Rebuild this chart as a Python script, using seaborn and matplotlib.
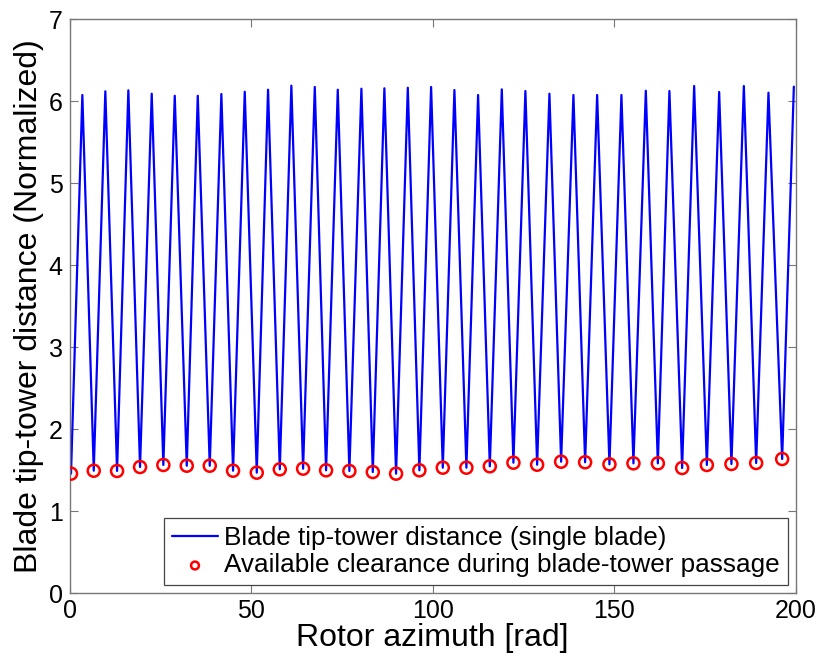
import matplotlib
matplotlib.use("Agg")
import matplotlib.pyplot as plt
import seaborn as sns
import pandas as pd

# ---- data ----
min_azimuth = [0.41, 6.67, 13.09, 19.42, 25.84, 32.29, 38.62, 45.04, 51.57, 57.91,
               64.33, 70.66, 77.08, 83.53, 89.94, 96.36, 102.81, 109.31, 115.76, 122.26,
               128.79, 135.40, 142.01, 148.71, 155.32, 162.04, 168.73, 175.54, 182.31, 189.12,
               196.28]
min_distance = [1.456, 1.492, 1.489, 1.537, 1.562, 1.553, 1.553, 1.492, 1.468, 1.509,
                1.517, 1.497, 1.489, 1.476, 1.456, 1.497, 1.529, 1.529, 1.546, 1.590,
                1.565, 1.602, 1.595, 1.570, 1.582, 1.582, 1.525, 1.562, 1.574, 1.586,
                1.635]
peak_azimuth = [3.53, 9.86, 16.20, 22.64, 28.98, 35.32, 41.82, 48.26, 54.68, 61.10,
                67.55, 73.88, 80.39, 86.72, 93.17, 99.59, 106.01, 112.53, 119.06, 125.56,
                132.18, 138.79, 145.32, 152.01, 158.73, 165.23, 172.04, 178.93, 185.73, 192.51,
                199.50]
peak_distance = [6.076, 6.121, 6.133, 6.092, 6.067, 6.067, 6.088, 6.116, 6.141, 6.190,
                 6.174, 6.141, 6.153, 6.158, 6.165, 6.174, 6.137, 6.076, 6.145, 6.125,
                 6.092, 6.076, 6.076, 6.076, 6.128, 6.125, 6.186, 6.113, 6.186, 6.104,
                 6.178]

x_ticks = [0, 50, 100, 150, 200]
y_ticks = [0, 1, 2, 3, 4, 5, 6, 7]
line_label = "Blade tip-tower distance (single blade)"
marker_label = "Available clearance during blade-tower passage"
x_label = "Rotor azimuth [rad]"
y_label = "Blade tip-tower distance (Normalized)"

# ---- build tables ----
line_x, line_y = [], []
for mx, my, px, py in zip(min_azimuth, min_distance, peak_azimuth, peak_distance):
    line_x += [mx, px]
    line_y += [my, py]
line_df = pd.DataFrame({"azimuth": line_x, "distance": line_y})
min_df = pd.DataFrame({"azimuth": min_azimuth, "distance": min_distance})

sns.set_style("white")
plt.rcParams["font.family"] = ["Liberation Sans", "DejaVu Sans"]
plt.rcParams["text.color"] = "black"
plt.rcParams["axes.labelcolor"] = "black"

fig = plt.figure(figsize=(8.19, 6.6), dpi=100)
ax = fig.add_axes([0.0849, 0.1015, 0.8866, 0.8693])

sns.lineplot(data=line_df, x="azimuth", y="distance", sort=False, ax=ax,
             color="#0000ff", linewidth=1.6, label=line_label)
sns.scatterplot(data=min_df, x="azimuth", y="distance", ax=ax, marker="o",
                s=75, facecolor="none", edgecolor="#ff0000", linewidth=1.8,
                label=marker_label, zorder=3)

ax.set_xlim(0, 200)
ax.set_ylim(0, 7)
ax.set_xticks(x_ticks)
ax.set_yticks(y_ticks)
ax.set_xlabel(x_label, fontsize=23, labelpad=0, color="black")
ax.set_ylabel(y_label, fontsize=23, labelpad=3, color="black")

for s in ax.spines.values():
    s.set_color("#777777")
    s.set_linewidth(1.0)
ax.tick_params(direction="in", length=6, width=0.8, color="#777777",
               labelsize=18, labelcolor="black", top=True, right=True,
               bottom=True, left=True)
ax.tick_params(axis="x", pad=4)
ax.tick_params(axis="y", pad=5)

leg = ax.legend(loc="lower right", fontsize=18.8, frameon=True, fancybox=False,
                framealpha=1, edgecolor="#444444", borderaxespad=0.3,
                handlelength=1.75, handletextpad=0.25, labelspacing=0.12,
                borderpad=0.3, markerscale=0.65)
leg.get_frame().set_linewidth(0.9)
for t in leg.get_texts():
    t.set_color("black")

fig.savefig("out.png", dpi=100)
